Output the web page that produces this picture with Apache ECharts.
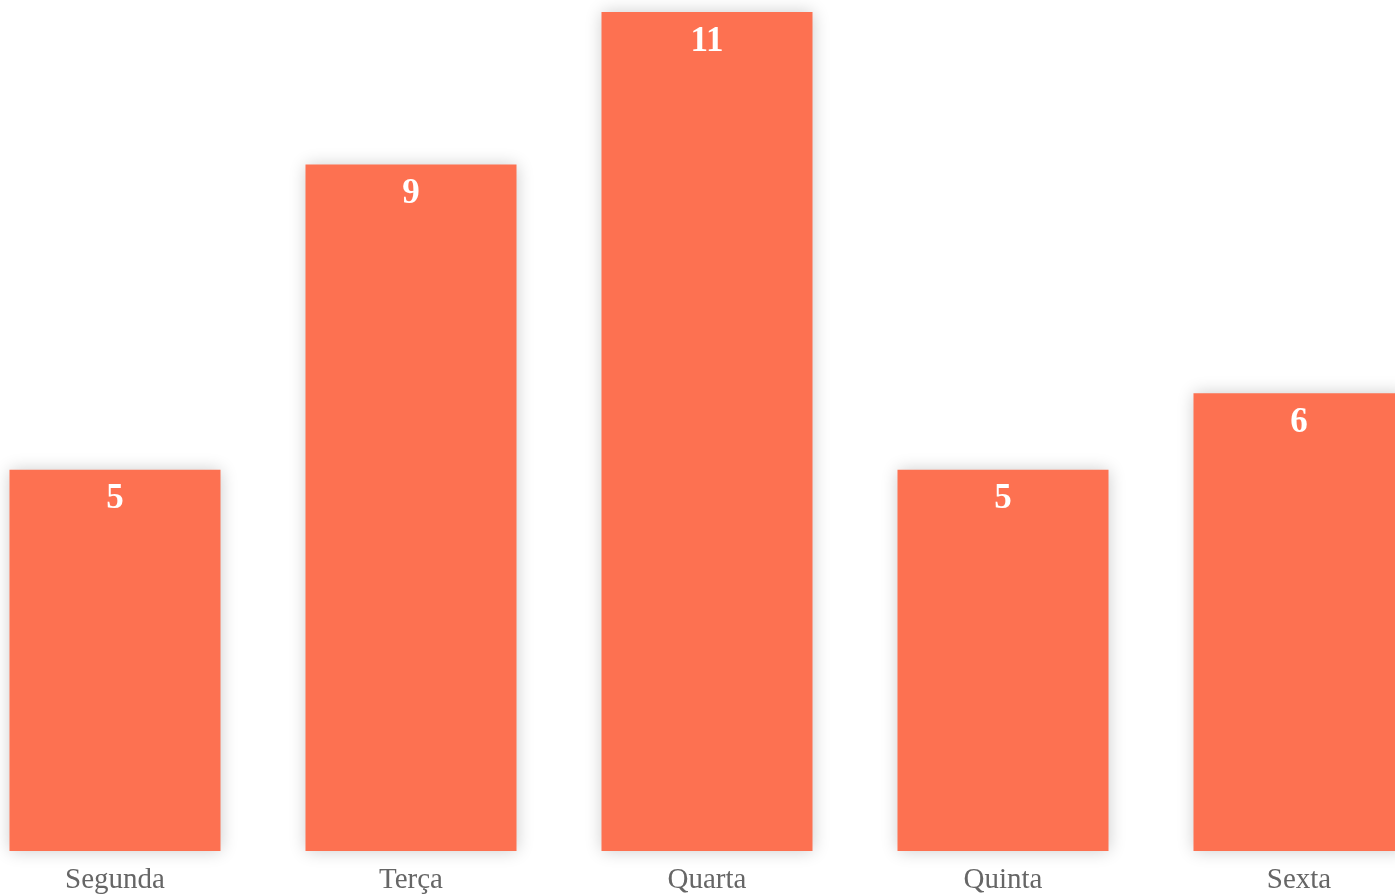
<!DOCTYPE html>
<html><head><meta charset="utf-8">
<script src="https://cdn.jsdelivr.net/npm/echarts@6/dist/echarts.min.js"></script>
<style>html,body{margin:0;padding:0;background:#fff;overflow:hidden;width:1395px;height:895px}
#c{position:absolute;left:-33px;top:0;width:1480px;height:895px}</style>
</head><body><div id="c"></div>
<script>
const categories = ['Segunda', 'Terça', 'Quarta', 'Quinta', 'Sexta'];
const values = [5, 9, 11, 5, 6];
const chart = echarts.init(document.getElementById('c'), null, {renderer: 'canvas'});
chart.setOption({
  animation: false,
  backgroundColor: '#ffffff',
  grid: {left: 0, right: 0, top: 12, bottom: 43, containLabel: false},
  xAxis: {
    type: 'category', data: categories,
    axisLine: {show: false}, axisTick: {show: false},
    axisLabel: {color: '#666', fontFamily: 'Liberation Serif', fontSize: 29, margin: 15}
  },
  yAxis: {type: 'value', min: 0, max: 11, show: false, splitLine: {show: false}},
  series: [{
    type: 'bar', data: values, barWidth: 211,
    itemStyle: {color: '#fd7151', shadowBlur: 16, shadowColor: 'rgba(0,0,0,0.2)'},
    label: {show: true, position: 'insideTop', distance: 12, color: '#fff',
      fontFamily: 'Liberation Serif', fontWeight: 'bold', fontSize: 35}
  }]
});
</script></body></html>
